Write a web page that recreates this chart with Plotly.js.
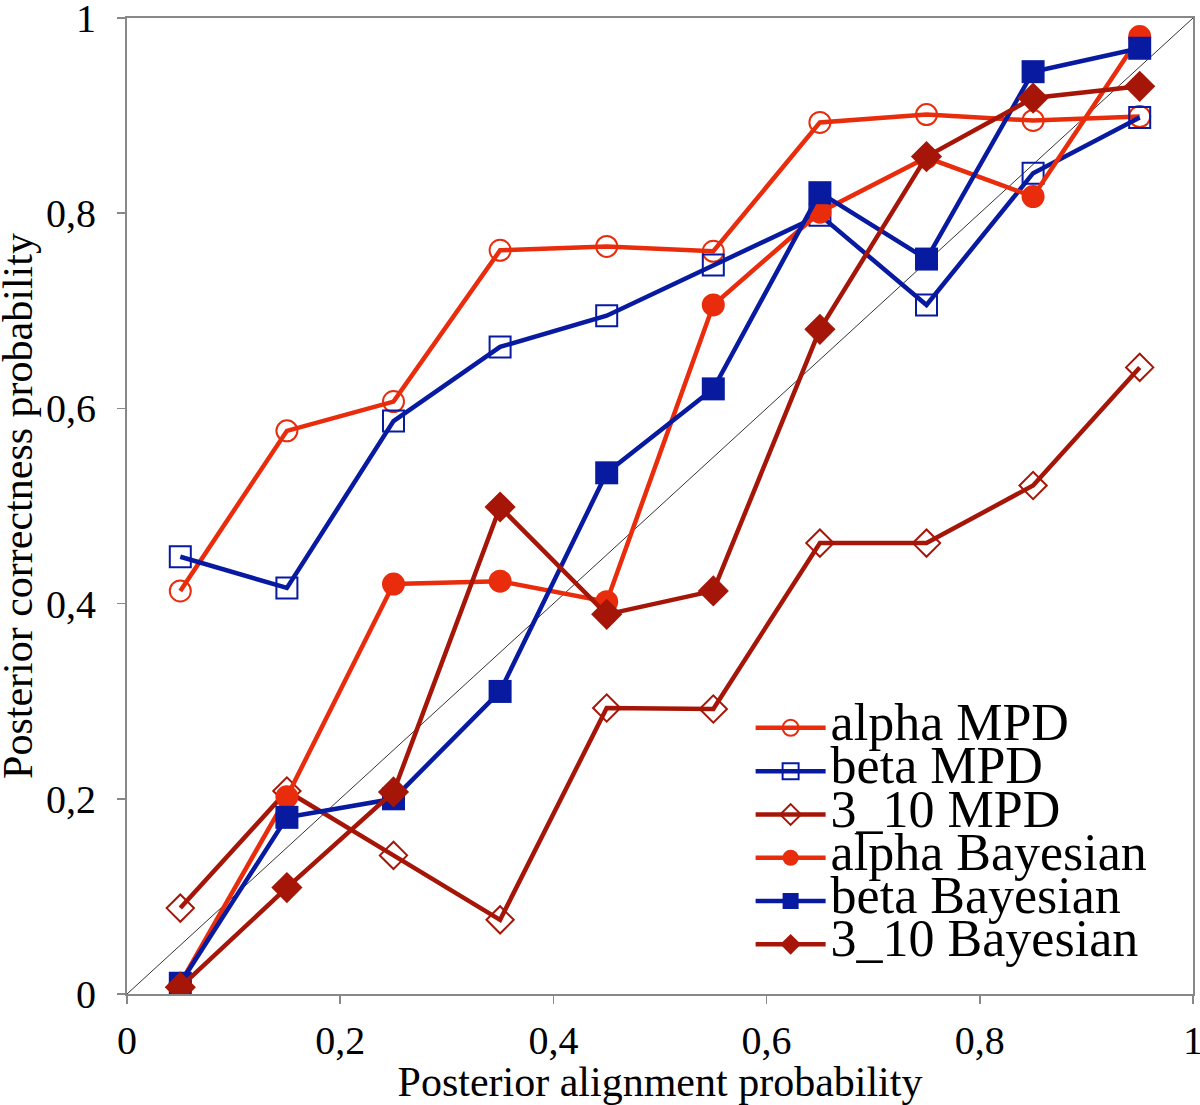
<!DOCTYPE html>
<html>
<head>
<meta charset="utf-8">
<script src="https://cdn.plot.ly/plotly-3.0.1.min.js"></script>
<style>html,body{margin:0;padding:0;background:#fff;}</style>
</head>
<body>
<div id="chart" style="width:1200px;height:1105px;"></div>
<script>
const xValues = [0.05, 0.15, 0.25, 0.35, 0.45, 0.55, 0.65, 0.75, 0.85, 0.95];
const alphaMPD = [0.413, 0.577, 0.607, 0.762, 0.766, 0.761, 0.893, 0.901, 0.895, 0.899];
const betaMPD = [0.448, 0.416, 0.587, 0.663, 0.695, 0.747, 0.798, 0.706, 0.841, 0.898];
const helix310MPD = [0.088, 0.208, 0.142, 0.076, 0.293, 0.292, 0.462, 0.462, 0.521, 0.642];
const alphaBayes = [0.011, 0.202, 0.420, 0.423, 0.402, 0.706, 0.801, 0.857, 0.817, 0.981];
const betaBayes = [0.011, 0.181, 0.200, 0.310, 0.534, 0.620, 0.821, 0.753, 0.945, 0.969];
const helix310Bayes = [0.007, 0.109, 0.207, 0.499, 0.389, 0.413, 0.681, 0.858, 0.918, 0.930];
const diagX = [0, 1];
const diagY = [0, 1];
const tickValues = [0, 0.2, 0.4, 0.6, 0.8, 1];
const tickLabels = ['0', '0,2', '0,4', '0,6', '0,8', '1'];
const seriesNames = ['alpha MPD', 'beta MPD', '3_10 MPD', 'alpha Bayesian', 'beta Bayesian', '3_10 Bayesian'];
const xTitle = 'Posterior alignment probability';
const yTitle = 'Posterior correctness probability';

const cAlpha = 'rgb(232,44,12)';
const cBeta = 'rgb(8,26,160)';
const c310 = 'rgb(165,22,8)';

function nm(s) { return '<span style="font-size:52px">' + s + '</span>'; }

const traces = [
  {x: diagX, y: diagY, mode: 'lines', line: {color: '#000', width: 0.8}, showlegend: false, hoverinfo: 'skip'},
  {x: xValues, y: alphaMPD, name: nm(seriesNames[0]), mode: 'lines+markers', line: {color: cAlpha, width: 4.5},
   marker: {symbol: 'circle-open', size: 21, color: cAlpha, line: {width: 2, color: cAlpha}}},
  {x: xValues, y: betaMPD, name: nm(seriesNames[1]), mode: 'lines+markers', line: {color: cBeta, width: 4.5},
   marker: {symbol: 'square-open', size: 21, color: cBeta, line: {width: 2, color: cBeta}}},
  {x: xValues, y: helix310MPD, name: nm(seriesNames[2]), mode: 'lines+markers', line: {color: c310, width: 4.5},
   marker: {symbol: 'diamond-open', size: 21, color: c310, line: {width: 2, color: c310}}},
  {x: xValues, y: alphaBayes, name: nm(seriesNames[3]), mode: 'lines+markers', line: {color: cAlpha, width: 4.5},
   marker: {symbol: 'circle', size: 23, color: cAlpha}},
  {x: xValues, y: betaBayes, name: nm(seriesNames[4]), mode: 'lines+markers', line: {color: cBeta, width: 4.5},
   marker: {symbol: 'square', size: 23, color: cBeta}},
  {x: xValues, y: helix310Bayes, name: nm(seriesNames[5]), mode: 'lines+markers', line: {color: c310, width: 4.5},
   marker: {symbol: 'diamond', size: 24, color: c310}}
];

const font = 'Liberation Serif, Times New Roman, serif';
const axisCommon = {
  range: [0, 1], tickmode: 'array', tickvals: tickValues, ticktext: tickLabels,
  showgrid: false, zeroline: false, automargin: false,
  showline: true, linecolor: '#888', linewidth: 2, mirror: true,
  ticks: 'outside', ticklen: 8, tickcolor: '#888', tickwidth: 1.5,
  ticklabeloverflow: 'allow',
  tickfont: {family: font, size: 40, color: '#000'}
};
const layout = {
  width: 1200, height: 1105,
  margin: {l: 127, r: 7, t: 18, b: 111},
  paper_bgcolor: '#fff', plot_bgcolor: '#fff',
  font: {family: font, color: '#000'},
  showlegend: true,
  legend: {x: 0.585, y: 0.30, xanchor: 'left', yanchor: 'top', bgcolor: 'rgba(0,0,0,0)',
           font: {family: font, size: 31, color: '#000'}, itemwidth: 70, tracegroupgap: 0},
  xaxis: Object.assign({}, axisCommon, {ticklabelstandoff: 2,
          title: {text: xTitle, font: {family: font, size: 42, color: '#000'}, standoff: 0}}),
  yaxis: Object.assign({}, axisCommon, {ticklabelstandoff: 13}),
  annotations: [
    {text: yTitle, xref: 'paper', yref: 'paper', x: -0.1023, y: 0.5, xanchor: 'center', yanchor: 'middle',
     textangle: -90, showarrow: false, font: {family: font, size: 42, color: '#000'}}
  ]
};

Plotly.newPlot('chart', traces, layout, {displayModeBar: false, staticPlot: true});
</script>
</body>
</html>
